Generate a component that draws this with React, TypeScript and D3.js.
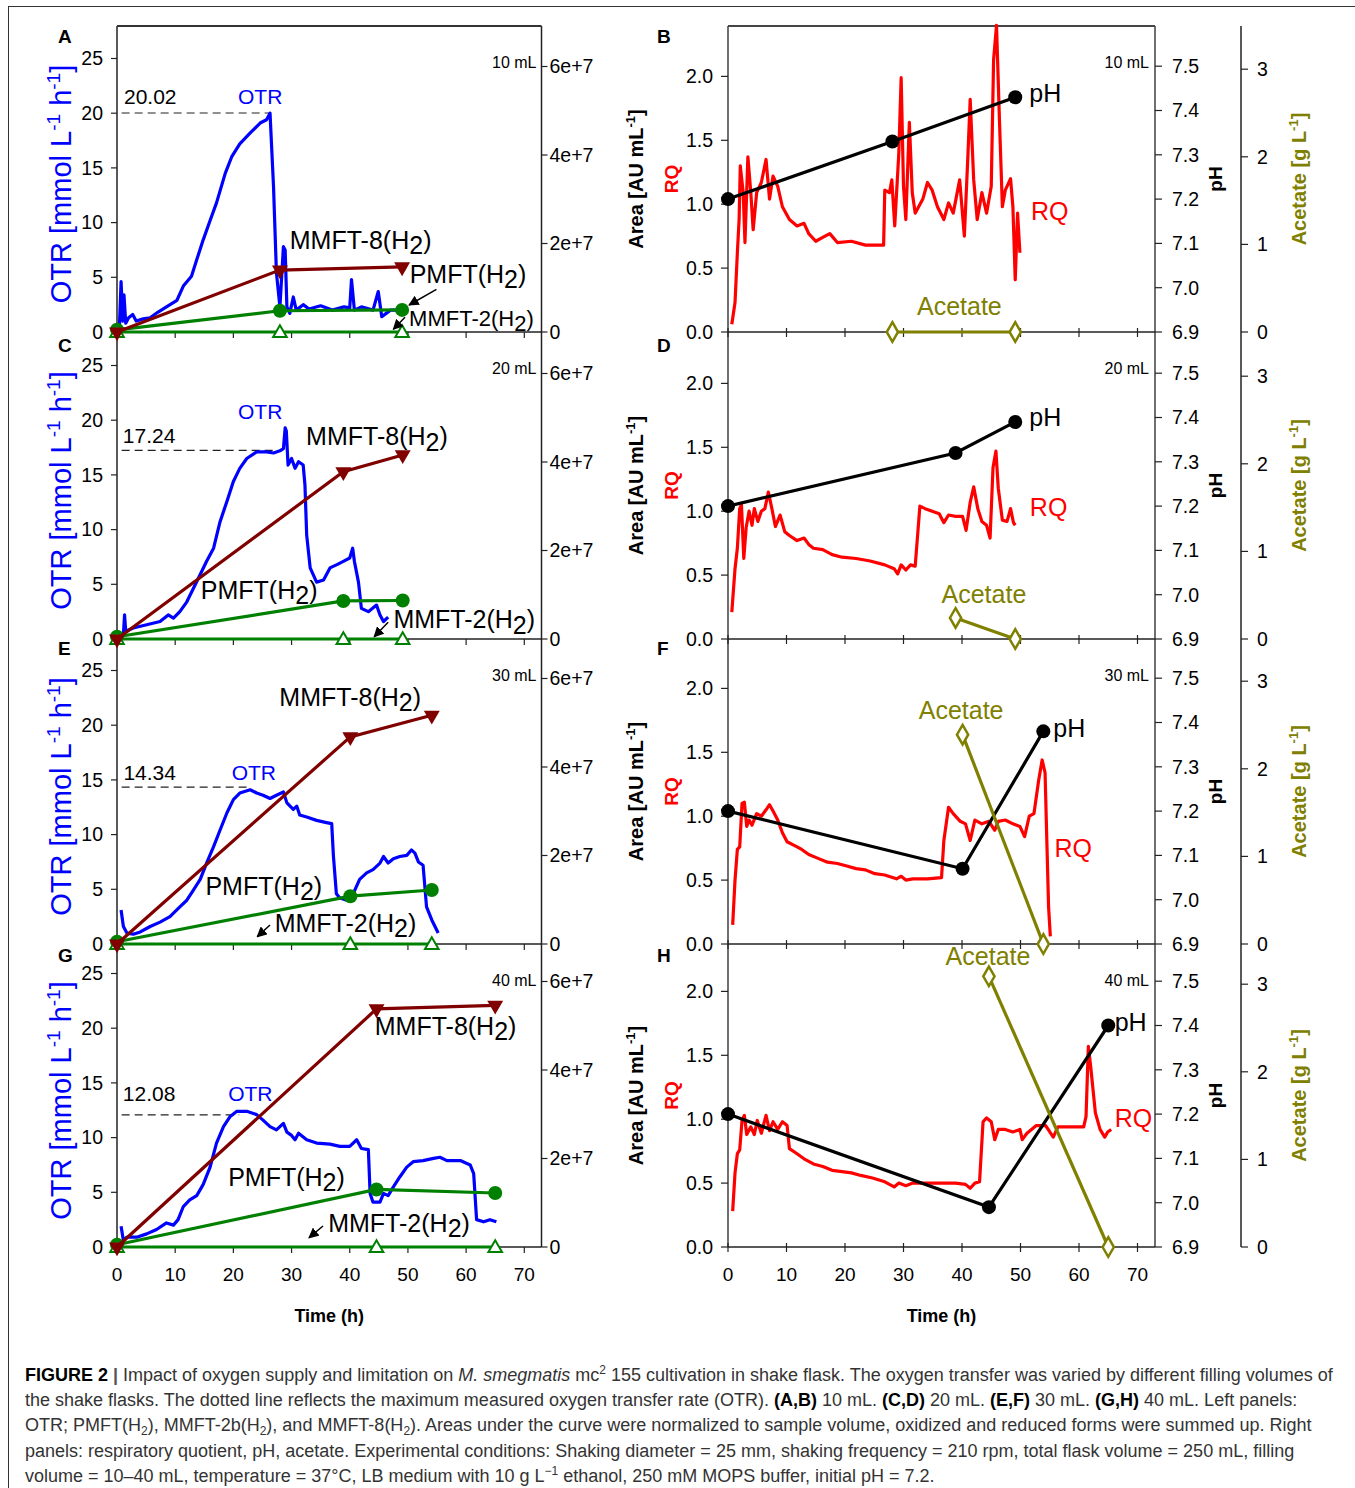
import React from "react";
import * as d3 from "d3";

// ---------- data ----------
const timeTicks = [0, 10, 20, 30, 40, 50, 60, 70];
const otrTicks = [0, 5, 10, 15, 20, 25];
const areaTicks = [0, 2e7, 4e7, 6e7];
const areaTickLabels = ["0", "2e+7", "4e+7", "6e+7"];
const rqTicks = [0, 0.5, 1.0, 1.5, 2.0];
const phTicks = [6.9, 7.0, 7.1, 7.2, 7.3, 7.4, 7.5];
const acetateTicks = [0, 1, 2, 3];

const volumes = ["10 mL", "20 mL", "30 mL", "40 mL"];
const leftLetters = ["A", "C", "E", "G"];
const rightLetters = ["B", "D", "F", "H"];
const maxOtr = [20.02, 17.24, 14.34, 12.08];
const maxOtrEnd = [26.3, 27.5, 22.5, 21.0];

// OTR traces [time h, mmol/L/h]
const otrA: [number, number][] = [
  [0.4, 0.3], [0.7, 4.6], [1.0, 1.0], [1.2, 3.4], [1.5, 0.8], [2.0, 1.3], [2.7, 1.6], [3.3, 1.0], [4.5, 1.2],
  [5.7, 1.3], [7.0, 1.8], [8.5, 2.3], [10.3, 2.9], [11.4, 4.2], [12.8, 5.1], [13.7, 6.6], [14.8, 8.4],
  [16.0, 10.2], [17.1, 11.8], [18.6, 14.5], [19.7, 16.0], [21.1, 17.2], [22.9, 18.2], [24.6, 19.1],
  [25.7, 19.4], [26.3, 20.0], [26.9, 13.3], [27.4, 5.4], [28.0, 2.3], [28.6, 7.8], [28.9, 7.5], [29.2, 2.3],
  [29.7, 1.7], [30.3, 3.2], [30.8, 2.0], [32.0, 2.5], [33.0, 2.1], [35.0, 2.4], [37.0, 2.0], [39.0, 2.3],
  [40.0, 2.2], [40.3, 4.8], [40.8, 2.0], [42.0, 2.3], [44.0, 2.0], [44.9, 3.7], [45.5, 1.4], [47.0, 2.0], [48.9, 2.0],
];
const otrC: [number, number][] = [
  [1.1, 0.4], [1.3, 2.2], [1.5, 0.7], [2.8, 1.0], [5.1, 1.3], [7.4, 1.6], [8.8, 2.2], [9.7, 1.9], [10.8, 2.5],
  [12.0, 3.4], [13.1, 4.6], [14.3, 5.9], [15.4, 7.1], [16.6, 8.3], [17.7, 10.7], [18.9, 12.6], [20.0, 14.4],
  [21.1, 15.6], [22.3, 16.5], [24.0, 17.1], [25.7, 17.1], [26.9, 17.0], [28.0, 17.2], [28.6, 17.4], [28.9, 19.3],
  [29.1, 19.0], [29.4, 15.9], [30.0, 16.5], [30.6, 15.6], [31.2, 16.2], [32.0, 15.9], [32.3, 14.1], [32.6, 9.5],
  [33.2, 6.5], [34.3, 5.2], [35.5, 5.4], [36.6, 6.5], [37.8, 6.8], [38.9, 7.1], [40.0, 7.4], [40.5, 8.3],
  [40.8, 7.1], [41.5, 5.2], [42.0, 2.8], [43.2, 2.5], [44.6, 3.1], [45.2, 2.2], [45.8, 1.6], [46.6, 2.0],
];
const otrE: [number, number][] = [
  [0.7, 3.1], [1.1, 1.6], [1.7, 1.0], [2.8, 0.9], [4.0, 1.1], [5.7, 1.6], [7.4, 2.0], [9.1, 2.5], [10.8, 3.4],
  [12.0, 4.0], [13.1, 4.9], [14.3, 5.9], [15.4, 7.4], [16.6, 8.9], [17.7, 10.4], [18.9, 12.0], [20.0, 13.2],
  [21.1, 13.8], [22.9, 14.1], [24.0, 13.8], [25.1, 13.6], [26.3, 13.3], [27.4, 13.6], [28.6, 13.9], [29.2, 12.9],
  [30.3, 12.3], [30.9, 12.6], [31.4, 11.8], [32.6, 11.6], [34.3, 11.3], [36.0, 11.1], [36.9, 11.0], [37.2, 8.0],
  [37.7, 4.6], [38.3, 4.2], [39.5, 4.0], [40.6, 4.6], [41.7, 5.9], [42.9, 6.5], [44.0, 6.8], [45.2, 7.4],
  [45.8, 8.0], [46.6, 7.4], [47.5, 7.8], [48.6, 8.0], [49.8, 8.1], [50.6, 8.6], [51.2, 8.3], [51.8, 7.5],
  [52.6, 7.2], [53.2, 3.4], [54.1, 2.2], [55.2, 1.0],
];
const otrG: [number, number][] = [
  [0.7, 1.9], [1.1, 0.6], [1.7, 0.9], [3.4, 0.9], [5.1, 1.2], [6.8, 1.6], [8.5, 2.2], [9.7, 2.0], [10.5, 2.5],
  [11.4, 3.7], [12.5, 4.3], [13.7, 4.7], [14.8, 5.7], [16.0, 7.3], [17.1, 9.5], [18.3, 11.0], [19.4, 11.9],
  [20.6, 12.4], [22.3, 12.4], [24.0, 12.1], [25.1, 11.6], [26.3, 11.0], [27.4, 10.7], [28.6, 11.3], [29.2, 10.5],
  [30.0, 10.2], [30.6, 9.8], [31.2, 10.4], [32.6, 9.8], [34.3, 9.5], [36.6, 9.4], [38.3, 9.2], [40.0, 9.2],
  [41.2, 9.8], [42.0, 9.0], [43.2, 8.9], [43.5, 4.9], [44.0, 4.1], [45.2, 4.1], [45.8, 4.9], [46.6, 4.7],
  [47.5, 5.5], [48.6, 6.4], [49.8, 7.3], [50.9, 7.8], [52.6, 7.9], [54.4, 8.1], [55.5, 8.2], [56.7, 7.9],
  [59.0, 7.9], [60.7, 7.5], [61.3, 6.7], [61.8, 2.5], [63.0, 2.3], [64.1, 2.5], [65.2, 2.3],
];

// H2 species [AU/mL] at sampling times
const sampleTimesA = [0, 28, 49];
const sampleTimesC = [0, 38.9, 49.1];
const sampleTimesE = [0, 40.1, 54.1];
const sampleTimesG = [0, 44.6, 65.0];
const pmftA = [0.5e6, 4.8e6, 5.0e6];
const pmftC = [0.5e6, 8.6e6, 8.7e6];
const pmftE = [0.5e6, 1.08e7, 1.22e7];
const pmftG = [0.5e6, 1.3e7, 1.22e7];
const mmft8A = [0, 1.4e7, 1.47e7];
const mmft8C = [0, 3.78e7, 4.16e7];
const mmft8E = [0, 4.68e7, 5.17e7];
const mmft8G = [0, 5.38e7, 5.46e7];
const mmft2A = [0, 0, 0];
const mmft2C = [0, 0, 0];
const mmft2E = [0, 0, 0];
const mmft2G = [0, 0, 0];

// RQ traces [time h, RQ]
const rqB: [number, number][] = [
  [0.65, 0.06], [1.2, 0.23], [1.6, 0.62], [1.9, 0.88], [2.1, 1.3], [2.6, 1.09], [2.9, 0.7], [3.4, 1.37], [3.9, 1.09],
  [4.3, 0.8], [4.9, 1.09], [5.7, 1.17], [6.5, 1.35], [7.1, 1.04], [7.7, 1.22], [8.5, 1.14], [9.3, 0.98], [10.5, 0.88],
  [11.8, 0.83], [13.0, 0.85], [13.8, 0.77], [15.0, 0.71], [16.2, 0.74], [17.4, 0.77], [18.7, 0.7], [21.1, 0.71],
  [23.5, 0.68], [26.6, 0.68], [26.8, 1.11], [27.6, 1.09], [28.0, 1.19], [28.5, 0.83], [29.2, 1.4], [29.6, 1.99],
  [30.0, 1.14], [30.4, 0.88], [31.0, 1.64], [31.5, 1.09], [32.0, 0.93], [33.3, 1.04], [34.1, 1.17], [34.9, 1.11],
  [35.8, 0.98], [36.9, 0.88], [37.7, 1.01], [38.5, 0.93], [39.6, 1.19], [40.4, 0.75], [41.0, 1.37], [41.4, 1.82],
  [42.0, 1.19], [42.6, 0.88], [43.4, 1.09], [44.2, 0.93], [45.0, 1.14], [45.4, 2.13], [45.9, 2.4], [46.4, 1.66],
  [46.9, 0.98], [47.4, 1.11], [48.3, 1.2], [48.7, 0.98], [49.1, 0.41], [49.5, 0.93], [49.9, 0.62],
];
const rqD: [number, number][] = [
  [0.65, 0.21], [1.2, 0.55], [1.6, 0.71], [2.0, 1.02], [2.3, 1.05], [2.7, 0.63], [3.1, 0.87], [3.6, 1.0], [4.1, 0.89],
  [4.5, 1.02], [5.1, 0.92], [5.7, 1.0], [6.3, 1.02], [6.9, 1.15], [7.5, 1.02], [8.1, 0.88], [8.9, 0.97], [9.7, 0.84],
  [10.5, 0.81], [11.8, 0.77], [13.0, 0.79], [13.8, 0.74], [14.6, 0.71], [16.2, 0.7], [17.8, 0.66], [19.5, 0.64],
  [21.9, 0.63], [24.3, 0.61], [26.8, 0.58], [28.4, 0.55], [29.0, 0.51], [29.6, 0.58], [30.4, 0.54], [31.2, 0.58],
  [32.0, 0.57], [32.8, 1.04], [33.7, 1.02], [34.9, 1.0], [36.1, 0.98], [36.9, 0.91], [37.7, 0.97], [38.9, 0.96],
  [40.1, 0.96], [40.7, 0.85], [41.4, 1.07], [42.0, 1.19], [42.7, 1.02], [43.4, 0.92], [44.2, 0.89], [44.8, 0.79],
  [45.3, 1.34], [45.8, 1.47], [46.2, 1.18], [46.9, 0.93], [47.7, 0.92], [48.3, 1.02], [48.8, 0.91], [49.1, 0.89],
];
const rqF: [number, number][] = [
  [0.8, 0.15], [1.2, 0.5], [1.6, 0.74], [2.0, 0.76], [2.4, 1.1], [2.8, 1.11], [3.2, 0.92], [3.6, 0.97], [4.1, 0.93],
  [4.9, 1.02], [5.7, 1.0], [6.5, 1.05], [7.1, 1.09], [7.7, 1.04], [8.5, 0.97], [9.3, 0.87], [10.1, 0.8], [11.4, 0.77],
  [12.6, 0.74], [13.8, 0.7], [15.4, 0.67], [17.0, 0.64], [18.7, 0.63], [20.3, 0.61], [21.9, 0.59], [23.5, 0.58],
  [25.1, 0.55], [26.8, 0.54], [28.8, 0.51], [29.6, 0.53], [30.4, 0.5], [31.6, 0.51], [34.1, 0.51], [36.5, 0.52],
  [36.9, 0.81], [37.7, 1.07], [38.5, 1.02], [39.7, 0.96], [40.6, 0.94], [41.4, 0.81], [42.2, 0.97], [43.4, 0.94],
  [44.6, 0.96], [45.6, 0.89], [46.2, 0.96], [47.4, 0.97], [48.7, 0.94], [49.9, 0.92], [50.7, 0.84], [51.5, 1.0],
  [52.3, 1.02], [53.1, 1.28], [53.7, 1.44], [54.2, 1.34], [54.5, 0.81], [54.8, 0.29], [55.1, 0.06],
];
const rqH: [number, number][] = [
  [0.8, 0.28], [1.2, 0.58], [1.6, 0.73], [2.0, 0.76], [2.4, 0.99], [2.8, 1.03], [3.2, 0.88], [3.9, 0.94], [4.5, 0.88],
  [5.0, 0.99], [5.7, 0.89], [6.5, 1.03], [7.1, 0.91], [7.7, 0.98], [8.5, 0.92], [9.3, 0.98], [10.1, 0.95], [10.5, 0.77],
  [11.8, 0.73], [13.0, 0.69], [14.6, 0.65], [16.2, 0.63], [17.8, 0.6], [19.5, 0.59], [21.1, 0.58], [22.7, 0.56],
  [24.7, 0.54], [26.8, 0.51], [28.4, 0.47], [29.2, 0.5], [30.4, 0.48], [31.6, 0.5], [34.1, 0.5], [36.5, 0.5],
  [38.9, 0.5], [40.6, 0.49], [41.4, 0.46], [42.2, 0.5], [43.0, 0.51], [43.6, 0.98], [44.2, 1.01], [45.0, 0.98],
  [45.6, 0.84], [46.2, 0.92], [47.4, 0.92], [48.7, 0.9], [49.9, 0.92], [50.3, 0.84], [51.1, 0.89], [52.7, 0.95],
  [54.3, 0.95], [55.6, 0.86], [56.4, 0.94], [58.4, 0.94], [60.8, 0.94], [61.2, 1.02], [61.6, 1.57], [62.0, 1.41],
  [62.8, 1.05], [63.6, 0.92], [64.4, 0.86], [64.9, 0.9], [65.5, 0.92],
];

// pH and acetate samples
const phTimesB = [0, 28.1, 49.1];
const phB = [7.2, 7.33, 7.43];
const phTimesD = [0, 38.9, 49.1];
const phD = [7.2, 7.32, 7.39];
const phTimesF = [0, 40.1, 53.9];
const phF = [7.2, 7.07, 7.38];
const phTimesH = [0, 44.6, 65.0];
const phH = [7.2, 6.99, 7.4];
const acetateTimesB = [28.1, 49.1];
const acetateB = [0, 0];
const acetateTimesD = [38.9, 49.1];
const acetateD = [0.24, 0];
const acetateTimesF = [40.1, 53.9];
const acetateF = [2.39, 0];
const acetateTimesH = [44.6, 65.0];
const acetateH = [3.09, 0];

// ---------- layout ----------
const FONT = "'Liberation Sans', Arial, Helvetica, sans-serif";
const BLUE = "#0000ff";
const RED = "#ff0000";
const MAROON = "#800000";
const GREEN = "#008000";
const OLIVE = "#808000";
const panelTops = [26, 332, 639, 944];
const panelBottoms = [332, 639, 944, 1247];
const L = { x0: 117, x1: 541.5, x70: 524.3 };
const R = { x0: 728, x1: 1155, x70: 1137.5, ac: 1241 };

// annotation anchors in data units (time, left axis value)
const leftNotes = [
  { max: [1.2, 20.8], otr: [20.8, 20.8], m8: [29.7, 7.6], pm: [50.3, 4.5], m2: [50.2, 0.55], m2size: 22,
    arrows: [[54.9, 3.9, 50.2, 2.47], [49.5, 1.34, 47.5, 0.25]] },
  { max: [1.0, 17.9], otr: [20.8, 20.1], m8: [32.5, 17.7], pm: [14.4, 3.7], m2: [47.5, 1.0], m2size: 25,
    arrows: [[46.6, 1.53, 44.2, 0.21]] },
  { max: [1.1, 15.0], otr: [19.7, 15.0], m8: [27.9, 21.8], pm: [15.2, 4.5], m2: [27.1, 1.1], m2size: 25,
    arrows: [[26.3, 1.74, 24.1, 0.67]] },
  { max: [1.0, 13.3], otr: [19.1, 13.3], m8: [44.3, 19.4], pm: [19.1, 5.6], m2: [36.3, 1.4], m2size: 25,
    arrows: [[35.4, 1.92, 33.0, 0.85]] },
];
const rightNotes = [
  { ph: [51.5, 1.8], rq: [51.8, 0.88], ac: [32.3, 0.13] },
  { ph: [51.5, 1.67], rq: [51.6, 0.96], ac: [36.5, 0.28] },
  { ph: [55.6, 1.62], rq: [55.8, 0.68], ac: [32.6, 1.76] },
  { ph: [66.1, 1.69], rq: [66.1, 0.94], ac: [37.2, 2.21] },
];

const leftPanels = [
  { otr: otrA, t: sampleTimesA, pmft: pmftA, m8: mmft8A, m2: mmft2A },
  { otr: otrC, t: sampleTimesC, pmft: pmftC, m8: mmft8C, m2: mmft2C },
  { otr: otrE, t: sampleTimesE, pmft: pmftE, m8: mmft8E, m2: mmft2E },
  { otr: otrG, t: sampleTimesG, pmft: pmftG, m8: mmft8G, m2: mmft2G },
];
const rightPanels = [
  { rq: rqB, pht: phTimesB, ph: phB, act: acetateTimesB, ac: acetateB },
  { rq: rqD, pht: phTimesD, ph: phD, act: acetateTimesD, ac: acetateD },
  { rq: rqF, pht: phTimesF, ph: phF, act: acetateTimesF, ac: acetateF },
  { rq: rqH, pht: phTimesH, ph: phH, act: acetateTimesH, ac: acetateH },
];
const letterNudge = [0, 3, -1, 1];

function H2Text({ x, y, prefix, size }: { x: number; y: number; prefix: string; size: number }) {
  return (
    <text x={x} y={y} fontSize={size} fill="#000">
      {prefix}(H<tspan dy={size * 0.22}>2</tspan>
      <tspan dy={-size * 0.22}>)</tspan>
    </text>
  );
}

function LeftPanel({ i }: { i: number }) {
  const top = panelTops[i];
  const bottom = panelBottoms[i];
  const p = leftPanels[i];
  const n = leftNotes[i];
  const x = d3.scaleLinear().domain([0, 70]).range([L.x0, L.x70]);
  const y = d3.scaleLinear().domain([0, 25]).range([bottom, bottom - 273.5]);
  const yR = d3.scaleLinear().domain([0, 6e7]).range([bottom, bottom - 265.5]);
  const otrLine = d3.line<[number, number]>().x((d) => x(d[0])).y((d) => y(d[1]));
  const rLine = (vals: number[]) =>
    d3.line<number>().x((d, k) => x(p.t[k])).y((d) => yR(d))(vals) || "";
  const tri = d3.symbol().type(d3.symbolTriangle).size(110)();
  const triUp = d3.symbol().type(d3.symbolTriangle).size(80)();
  const isLast = i === 3;
  const labelY = (top + bottom) / 2 + 5;
  return (
    <g>
      {/* axes */}
      {i === 0 && <line x1={L.x0} x2={L.x1} y1={top} y2={top} stroke="#333" strokeWidth={2} />}
      <line x1={L.x0} x2={L.x1} y1={bottom} y2={bottom} stroke="#222" strokeWidth={1.3} />
      {timeTicks.map((t) => (
        <g key={t}>
          <line x1={x(t)} x2={x(t)} y1={bottom} y2={bottom + 6} stroke="#222" strokeWidth={1.2} />
          {isLast && (
            <text x={x(t)} y={bottom + 34} fontSize={19} textAnchor="middle">{t}</text>
          )}
        </g>
      ))}
      {otrTicks.map((v) => (
        <g key={v}>
          <line x1={L.x0 - 6} x2={L.x0} y1={y(v)} y2={y(v)} stroke="#222" strokeWidth={1.2} />
          <text x={L.x0 - 14} y={y(v)} dy="0.35em" fontSize={19.5} textAnchor="end">{v}</text>
        </g>
      ))}
      {areaTicks.map((v, k) => (
        <g key={v}>
          <line x1={L.x1} x2={L.x1 + 6} y1={yR(v)} y2={yR(v)} stroke="#222" strokeWidth={1.2} />
          <text x={L.x1 + 8} y={yR(v)} dy="0.35em" fontSize={19.5}>{areaTickLabels[k]}</text>
        </g>
      ))}
      <text x={58} y={top + 17 + letterNudge[i]} fontSize={19} fontWeight="bold">{leftLetters[i]}</text>
      <text x={L.x1 - 5} y={top + 42} fontSize={16} textAnchor="end">{volumes[i]}</text>
      <text transform={`translate(71,${labelY}) rotate(-90)`} fontSize={29} fill={BLUE} textAnchor="middle">
        OTR [mmol L<tspan dy={-11} fontSize={19}>-1</tspan>
        <tspan dy={11}> h</tspan>
        <tspan dy={-11} fontSize={19}>-1</tspan>
        <tspan dy={11}>]</tspan>
      </text>
      {/* max OTR */}
      <line x1={x(0.8)} x2={x(maxOtrEnd[i])} y1={y(maxOtr[i])} y2={y(maxOtr[i])} stroke="#222" strokeWidth={1.2} strokeDasharray="8,5" />
      <text x={x(n.max[0])} y={y(n.max[1])} fontSize={21}>{maxOtr[i].toFixed(2)}</text>
      <text x={x(n.otr[0])} y={y(n.otr[1])} fontSize={21} fill={BLUE}>OTR</text>
      {/* OTR trace */}
      <path d={otrLine(p.otr) || ""} fill="none" stroke={BLUE} strokeWidth={3.2} strokeLinejoin="round" />
      {/* H2 species */}
      <path d={rLine(p.pmft)} fill="none" stroke={GREEN} strokeWidth={3.2} />
      {p.pmft.map((v, k) => (
        <circle key={k} cx={x(p.t[k])} cy={yR(v)} r={7} fill={GREEN} />
      ))}
      <path d={rLine(p.m2)} fill="none" stroke={GREEN} strokeWidth={3.2} />
      {p.m2.map((v, k) => (
        <path key={k} d={triUp} transform={`translate(${x(p.t[k])},${yR(v) + 1})`} fill="#fff" stroke={GREEN} strokeWidth={2} />
      ))}
      <path d={rLine(p.m8)} fill="none" stroke={MAROON} strokeWidth={3.2} />
      {p.m8.map((v, k) => (
        <path key={k} d={tri} transform={`translate(${x(p.t[k])},${yR(v)}) rotate(180)`} fill={MAROON} />
      ))}
      {/* labels */}
      <H2Text x={x(n.m8[0])} y={y(n.m8[1])} prefix="MMFT-8" size={25} />
      <H2Text x={x(n.pm[0])} y={y(n.pm[1])} prefix="PMFT" size={25} />
      <H2Text x={x(n.m2[0])} y={y(n.m2[1])} prefix="MMFT-2" size={n.m2size} />
      {n.arrows.map((a, k) => (
        <line key={k} x1={x(a[0])} y1={y(a[1])} x2={x(a[2])} y2={y(a[3])} stroke="#000" strokeWidth={1.5} markerEnd="url(#arrowHead)" />
      ))}
      {isLast && (
        <text x={(L.x0 + L.x1) / 2} y={bottom + 75} fontSize={18} fontWeight="bold" textAnchor="middle">Time (h)</text>
      )}
    </g>
  );
}

function RightPanel({ i }: { i: number }) {
  const top = panelTops[i];
  const bottom = panelBottoms[i];
  const p = rightPanels[i];
  const n = rightNotes[i];
  const x = d3.scaleLinear().domain([0, 70]).range([R.x0, R.x70]);
  const y = d3.scaleLinear().domain([0, 2]).range([bottom, bottom - 255.6]);
  const yPh = d3.scaleLinear().domain([6.9, 7.5]).range([bottom, bottom - 265.8]);
  const yAc = d3.scaleLinear().domain([0, 3]).range([bottom, bottom - 262.8]);
  const rqLine = d3.line<[number, number]>().x((d) => x(d[0])).y((d) => y(d[1]));
  const phLine = d3.line<number>().x((d, k) => x(p.pht[k])).y((d) => yPh(d));
  const acLine = d3.line<number>().x((d, k) => x(p.act[k])).y((d) => yAc(d));
  const diamond = d3.symbol().type(d3.symbolDiamond).size(110)();
  const isLast = i === 3;
  const midY = (top + bottom) / 2;
  const f1 = d3.format(".1f");
  return (
    <g>
      {i === 0 && <line x1={R.x0} x2={R.x1} y1={top} y2={top} stroke="#444" strokeWidth={2} />}
      <line x1={R.x0} x2={R.x1} y1={bottom} y2={bottom} stroke="#222" strokeWidth={1.3} />
      {timeTicks.map((t) => (
        <g key={t}>
          <line x1={x(t)} x2={x(t)} y1={bottom - 4} y2={bottom + 5} stroke="#222" strokeWidth={1.2} />
          {isLast && (
            <text x={x(t)} y={bottom + 34} fontSize={19} textAnchor="middle">{t}</text>
          )}
        </g>
      ))}
      {rqTicks.map((v) => (
        <g key={v}>
          <line x1={R.x0 - 7} x2={R.x0} y1={y(v)} y2={y(v)} stroke="#222" strokeWidth={1.2} />
          <text x={R.x0 - 15} y={y(v)} dy="0.35em" fontSize={19.5} textAnchor="end">{f1(v)}</text>
        </g>
      ))}
      {phTicks.map((v) => (
        <g key={v}>
          <line x1={R.x1} x2={R.x1 + 7} y1={yPh(v)} y2={yPh(v)} stroke="#222" strokeWidth={1.2} />
          <text x={R.x1 + 17} y={yPh(v)} dy="0.35em" fontSize={19.5}>{f1(v)}</text>
        </g>
      ))}
      {acetateTicks.map((v) => (
        <g key={v}>
          <line x1={R.ac} x2={R.ac + 7} y1={yAc(v)} y2={yAc(v)} stroke="#222" strokeWidth={1.2} />
          <text x={R.ac + 16} y={yAc(v)} dy="0.35em" fontSize={19.5}>{v}</text>
        </g>
      ))}
      <text x={657} y={top + 17 + letterNudge[i]} fontSize={19} fontWeight="bold">{rightLetters[i]}</text>
      <text x={R.x1 - 6} y={top + 42} fontSize={16} textAnchor="end">{volumes[i]}</text>
      <text transform={`translate(643,${midY}) rotate(-90)`} fontSize={20} fontWeight="bold" textAnchor="middle">
        Area [AU mL<tspan dy={-8} fontSize={13}>-1</tspan>
        <tspan dy={8}>]</tspan>
      </text>
      <text transform={`translate(678,${midY}) rotate(-90)`} fontSize={19} fontWeight="bold" fill={RED} textAnchor="middle">RQ</text>
      <text transform={`translate(1222,${midY}) rotate(-90)`} fontSize={19} fontWeight="bold" textAnchor="middle">pH</text>
      <text transform={`translate(1306,${midY}) rotate(-90)`} fontSize={20} fontWeight="bold" fill={OLIVE} textAnchor="middle">
        Acetate [g L<tspan dy={-8} fontSize={13}>-1</tspan>
        <tspan dy={8}>]</tspan>
      </text>
      {/* RQ */}
      <path d={rqLine(p.rq) || ""} fill="none" stroke={RED} strokeWidth={3.2} strokeLinejoin="round" />
      {/* pH */}
      <path d={phLine(p.ph) || ""} fill="none" stroke="#000" strokeWidth={3.2} />
      {p.ph.map((v, k) => (
        <circle key={k} cx={x(p.pht[k])} cy={yPh(v)} r={7} fill="#000" />
      ))}
      {/* acetate */}
      <path d={acLine(p.ac) || ""} fill="none" stroke={OLIVE} strokeWidth={3.2} />
      {p.ac.map((v, k) => (
        <path key={k} d={diamond} transform={`translate(${x(p.act[k])},${yAc(v)})`} fill="#fff" stroke={OLIVE} strokeWidth={2.5} />
      ))}
      <text x={x(n.ph[0])} y={y(n.ph[1])} fontSize={25}>pH</text>
      <text x={x(n.rq[0])} y={y(n.rq[1])} fontSize={25} fill={RED}>RQ</text>
      <text x={x(n.ac[0])} y={y(n.ac[1])} fontSize={25} fill={OLIVE}>Acetate</text>
      {isLast && (
        <text x={(R.x0 + R.x1) / 2} y={bottom + 75} fontSize={18} fontWeight="bold" textAnchor="middle">Time (h)</text>
      )}
    </g>
  );
}

// caption segments: [text, style]
const captionLines: [string, string][][] = [
  [["FIGURE 2", "b"], [" | ", "bar"], ["Impact of oxygen supply and limitation on ", ""], ["M. smegmatis", "i"], [" mc", ""], ["2", "sup"],
    [" 155 cultivation in shake flask. The oxygen transfer was varied by different filling volumes of", ""]],
  [["the shake flasks. The dotted line reflects the maximum measured oxygen transfer rate (OTR). ", ""], ["(A,B)", "b"],
    [" 10 mL. ", ""], ["(C,D)", "b"], [" 20 mL. ", ""], ["(E,F)", "b"], [" 30 mL. ", ""], ["(G,H)", "b"], [" 40 mL. Left panels:", ""]],
  [["OTR; PMFT(H", ""], ["2", "sub"], ["), MMFT-2b(H", ""], ["2", "sub"], ["), and MMFT-8(H", ""], ["2", "sub"],
    ["). Areas under the curve were normalized to sample volume, oxidized and reduced forms were summed up. Right", ""]],
  [["panels: respiratory quotient, pH, acetate. Experimental conditions: Shaking diameter = 25 mm, shaking frequency = 210 rpm, total flask volume = 250 mL, filling", ""]],
  [["volume = 10–40 mL, temperature = 37°C, LB medium with 10 g L", ""], ["−1", "sup"], [" ethanol, 250 mM MOPS buffer, initial pH = 7.2.", ""]],
];

function Caption() {
  const size = 18;
  return (
    <g fill="#333">
      {captionLines.map((segs, li) => {
        let shift = 0;
        return (
          <text key={li} x={25} y={1381 + li * 25.2} fontSize={size}>
            {segs.map(([s, st], k) => {
              let target = 0;
              if (st === "sup") target = -7;
              if (st === "sub") target = 4;
              const dy = target - shift;
              shift = target;
              return (
                <tspan
                  key={k}
                  dy={dy}
                  fontWeight={st === "b" || st === "bar" ? "bold" : undefined}
                  fontStyle={st === "i" ? "italic" : undefined}
                  fontSize={st === "sup" || st === "sub" ? 12 : undefined}
                  fill={st === "b" ? "#000" : st === "bar" ? "#555" : undefined}
                >
                  {s}
                </tspan>
              );
            })}
          </text>
        );
      })}
    </g>
  );
}

export default function App() {
  return (
    <div style={{ position: "absolute", left: 0, top: 0 }}>
      <svg width={1355} height={1488} fontFamily={FONT} style={{ display: "block", background: "#fff" }}>
        <defs>
          <marker id="arrowHead" viewBox="0 0 10 10" refX="9" refY="5" markerWidth="7" markerHeight="7" orient="auto">
            <path d="M0,0 L10,5 L0,10 z" fill="#000" />
          </marker>
        </defs>
        <rect x={8.5} y={6.5} width={1360} height={1500} fill="none" stroke="#333" strokeWidth={1} />
        {/* shared vertical axes */}
        <line x1={L.x0} x2={L.x0} y1={panelTops[0]} y2={panelBottoms[3]} stroke="#222" strokeWidth={1.5} />
        <line x1={L.x1} x2={L.x1} y1={panelTops[0]} y2={panelBottoms[3]} stroke="#222" strokeWidth={1.5} />
        <line x1={R.x0} x2={R.x0} y1={panelTops[0]} y2={panelBottoms[3]} stroke="#222" strokeWidth={1.3} />
        <line x1={R.x1} x2={R.x1} y1={panelTops[0]} y2={panelBottoms[3]} stroke="#222" strokeWidth={1.3} />
        <line x1={R.ac} x2={R.ac} y1={panelTops[0]} y2={panelBottoms[3]} stroke="#222" strokeWidth={1.5} />
        {[0, 1, 2, 3].map((i) => (
          <LeftPanel key={"l" + i} i={i} />
        ))}
        {[0, 1, 2, 3].map((i) => (
          <RightPanel key={"r" + i} i={i} />
        ))}
        <Caption />
      </svg>
    </div>
  );
}
